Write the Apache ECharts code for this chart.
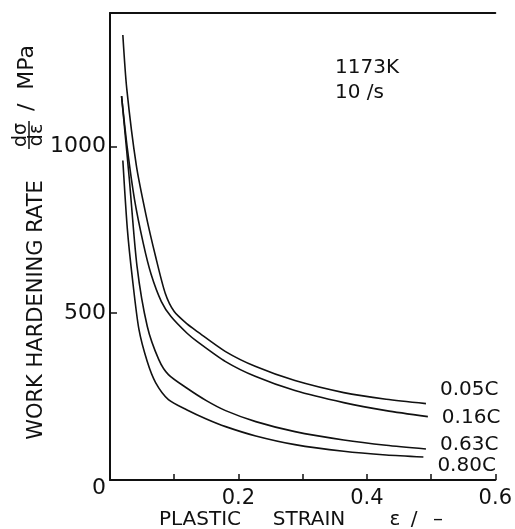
<!DOCTYPE html>
<html>
<head>
<meta charset="utf-8">
<script src="https://cdn.jsdelivr.net/npm/echarts@6/dist/echarts.min.js"></script>
<style>
html, body { margin: 0; padding: 0; background: #fff; }
#container { width: 515px; height: 529px; }
</style>
</head>
<body>
<div id="container"></div>
<script>
// steel grades
var grades = ['0.05C', '0.16C', '0.63C', '0.80C'];

// [strain, work hardening rate / MPa]
var c005 = [[0.020, 1334], [0.026, 1175], [0.041, 943], [0.056, 795], [0.071, 670], [0.086, 560],
	[0.10, 505], [0.12, 468], [0.136, 445], [0.18, 385], [0.227, 340], [0.288, 298], [0.364, 262], [0.43, 242], [0.492, 229]];
var c016 = [[0.018, 1151], [0.027, 994], [0.038, 843], [0.052, 708], [0.064, 617], [0.080, 535],
	[0.095, 490], [0.12, 440], [0.136, 415], [0.18, 355], [0.227, 310], [0.288, 268], [0.364, 232], [0.43, 208], [0.495, 190]];
var c063 = [[0.018, 1151], [0.030, 904], [0.042, 642], [0.058, 461], [0.076, 361], [0.091, 316],
	[0.12, 275], [0.15, 238], [0.18, 208], [0.227, 175], [0.288, 145], [0.364, 120], [0.43, 104], [0.492, 93]];
var c080 = [[0.020, 958], [0.027, 753], [0.035, 602], [0.045, 452], [0.058, 355], [0.071, 292],
	[0.091, 241], [0.12, 210], [0.15, 183], [0.18, 160], [0.227, 132], [0.288, 106], [0.364, 86], [0.43, 75], [0.488, 69]];

var xTickLabels = ['0.2', '0.4', '0.6'];
var yTickLabels = ['0', '500', '1000'];

// end label offsets, so the names sit like in the figure
var labelOffsets = [[0, -14], [0, 1], [0, -4], [0, 9]];

var dom = document.getElementById("container");
var myChart = echarts.init(dom);
var font = 'DejaVu Sans';
var ink = '#111';

function curve(name, data, i) {
	return {
		name : name,
		type : 'line',
		data : data,
		smooth : 0.25,
		showSymbol : false,
		lineStyle : { color : ink, width : 1.6 },
		endLabel : {
			show : true,
			formatter : '{a}',
			distance : 14,
			offset : labelOffsets[i],
			color : ink,
			fontFamily : font,
			fontSize : 20
		},
		silent : true
	};
}

var option = {
	animation : false,
	grid : { left : 110, right : 9, top : 13, bottom : 49 },
	xAxis : [ {
		type : 'value',
		min : 0,
		max : 0.6,
		interval : 0.1,
		axisLine : { lineStyle : { color : ink, width : 2 } },
		axisTick : { inside : true, length : 6, lineStyle : { color : ink, width : 1.5 } },
		splitLine : { show : false },
		axisLabel : {
			color : ink,
			fontFamily : font,
			fontSize : 21,
			margin : 8,
			formatter : function(v) {
				var s = v.toFixed(1);
				return xTickLabels.indexOf(s) >= 0 ? s : '';
			}
		}
	}, {
		type : 'value',
		position : 'top',
		min : 0,
		max : 0.6,
		axisLine : { show : true, onZero : false, lineStyle : { color : ink, width : 2 } },
		axisTick : { show : false },
		axisLabel : { show : false },
		splitLine : { show : false }
	} ],
	yAxis : {
		type : 'value',
		min : 0,
		max : 1400,
		interval : 500,
		axisLine : { show : true, lineStyle : { color : ink, width : 2 } },
		axisTick : { inside : true, length : 7, lineStyle : { color : ink, width : 1.5 } },
		splitLine : { show : false },
		axisLabel : {
			color : ink,
			fontFamily : font,
			fontSize : 22,
			margin : 4,
			formatter : function(v) {
				var s = String(v);
				if (yTickLabels.indexOf(s) < 0) return '';
				return s === '0' ? '{z|0}' : s;
			},
			rich : { z : { fontFamily : font, fontSize : 22, color : ink, padding : [16, 0, 0, 0] } }
		}
	},
	graphic : [
		{ type : 'text', x : 37, y : 310, rotation : Math.PI / 2,
			style : { text : 'WORK HARDENING RATE', font : '21px ' + font, fill : ink, textAlign : 'center', textVerticalAlign : 'middle' } },
		{ type : 'text', x : 21, y : 135, rotation : Math.PI / 2,
			style : { text : 'dσ', font : '19px ' + font, fill : ink, textAlign : 'center', textVerticalAlign : 'middle' } },
		{ type : 'line', shape : { x1 : 29, y1 : 121, x2 : 29, y2 : 149 }, style : { stroke : ink, lineWidth : 1.5 } },
		{ type : 'text', x : 37, y : 135, rotation : Math.PI / 2,
			style : { text : 'dε', font : '19px ' + font, fill : ink, textAlign : 'center', textVerticalAlign : 'middle' } },
		{ type : 'text', x : 27, y : 78, rotation : Math.PI / 2,
			style : { text : '/  MPa', font : '22px ' + font, fill : ink, textAlign : 'center', textVerticalAlign : 'middle' } },
		{ type : 'text', x : 335, y : 68,
			style : { text : '1173K', font : '20px ' + font, fill : ink, textVerticalAlign : 'middle' } },
		{ type : 'text', x : 335, y : 93,
			style : { text : '10 /s', font : '20px ' + font, fill : ink, textVerticalAlign : 'middle' } },
		{ type : 'text', x : 200, y : 520,
			style : { text : 'PLASTIC', font : '20px ' + font, fill : ink, textAlign : 'center', textVerticalAlign : 'middle' } },
		{ type : 'text', x : 309, y : 520,
			style : { text : 'STRAIN', font : '20px ' + font, fill : ink, textAlign : 'center', textVerticalAlign : 'middle' } },
		{ type : 'text', x : 395, y : 520,
			style : { text : 'ε', font : '20px ' + font, fill : ink, textAlign : 'center', textVerticalAlign : 'middle' } },
		{ type : 'text', x : 414, y : 520,
			style : { text : '/', font : '20px ' + font, fill : ink, textAlign : 'center', textVerticalAlign : 'middle' } },
		{ type : 'text', x : 438, y : 520,
			style : { text : '–', font : '20px ' + font, fill : ink, textAlign : 'center', textVerticalAlign : 'middle' } }
	],
	series : [
		curve(grades[0], c005, 0),
		curve(grades[1], c016, 1),
		curve(grades[2], c063, 2),
		curve(grades[3], c080, 3)
	]
};

if (option && typeof option === "object") {
	myChart.setOption(option, true);
}
</script>
</body>
</html>
